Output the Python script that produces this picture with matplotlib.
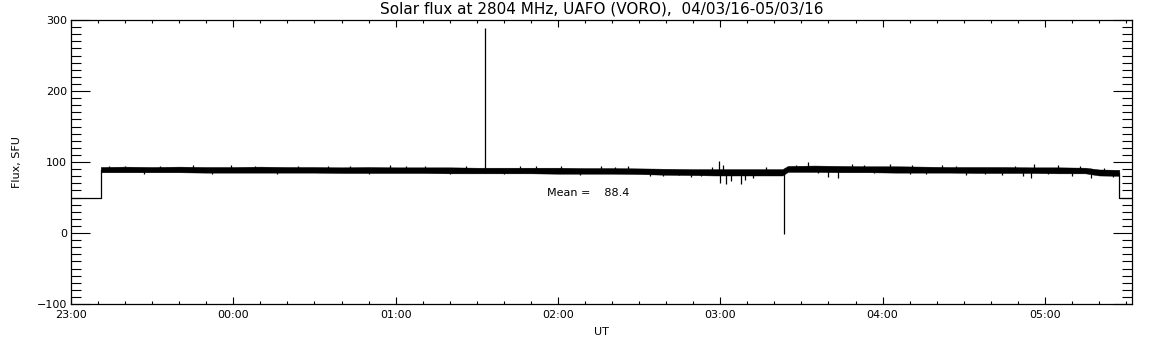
import matplotlib
matplotlib.use("Agg")
import matplotlib.pyplot as plt
from matplotlib.ticker import MultipleLocator

# time in minutes after 23:00 UT
x_end = 392.2

# step at start and end of the record (antenna off sun)
edge_t = [0, 11, 11]
edge_v = [50, 50, 89]
tail_t = [387.5, 387.5, x_end]
tail_v = [85, 50, 50]

# noisy band: time, upper and lower envelope
band_t = [11, 20, 30, 40, 50, 60, 70, 80, 90, 100, 110, 120, 130, 140, 150, 160,
          170, 180, 190, 200, 210, 220, 230, 238, 245, 255, 263, 265, 275, 285,
          295, 305, 315, 325, 335, 345, 355, 365, 375, 380, 387.5]
band_hi = [93, 93.5, 93, 93.5, 93, 93, 93.5, 93, 93, 92.5, 93, 92.5, 92.5, 92.5,
           92, 92, 92, 92, 91.5, 91.5, 91, 90.5, 90, 90, 90, 90, 90, 94.5, 95,
           94.5, 94, 94, 93.5, 93, 93, 93, 92.5, 92.5, 92, 89.5, 89]
band_lo = [85.5, 85.5, 85.5, 85.5, 85, 85, 85, 85, 85, 84.5, 84.5, 84.5, 84.5, 84,
           84, 84, 84, 83.5, 83.5, 83.5, 83, 82, 81.5, 81, 81, 81, 81, 86, 86,
           85.5, 85.5, 85, 85, 85, 84.5, 84.5, 84.5, 84, 84, 81, 80.5]

# single-sample excursions: time, base level, peak value
spike_t = [153, 263.7, 237, 239.5, 240, 241, 242.3, 244, 247.7, 249.2, 252,
           224.8, 272.5, 279.7, 283.4, 288.6, 302.8, 310, 311, 344, 352, 355,
           356, 377, 20, 45, 68, 95, 118, 131, 172, 196, 206, 214, 229, 322,
           331, 365, 370, 14, 27, 33, 52, 59, 76, 84, 103, 110, 124, 140, 146,
           160, 166, 181, 188, 201, 219, 233, 257, 268, 276, 293, 297, 316,
           327, 338, 349, 361, 373, 382, 385]
spike_base = [89, 86, 86, 86, 86, 86, 86, 86, 86, 86, 86,
              86, 90, 90, 90, 90, 90, 89, 89, 89, 88.5, 88.5,
              88.5, 88, 89.5, 89.5, 89.5, 89, 89, 89, 88.5, 88.5, 88, 87, 86, 89,
              89, 88, 88, 89.5, 89.5, 89.5, 89, 89, 89, 89, 89, 89, 88.5, 88.5,
              88.5, 88, 88, 88, 88, 87.5, 86.5, 86, 86, 90, 90, 90, 90, 89,
              89, 89, 88.5, 88, 88, 85, 85]
spike_v = [289, -2, 93, 101, 71, 96, 69, 73, 69, 75, 78,
           82, 100, 79, 78, 97, 97, 83, 96, 82, 80, 78,
           97, 77, 95, 95.5, 95, 95, 95.5, 95, 94.5, 94, 94, 80, 79, 96,
           81, 96, 80, 95, 83.5, 95, 83, 95.5, 83, 94.5, 95, 83, 94.5, 83,
           94, 82.5, 94, 94, 82, 93.5, 80.5, 80, 92.5, 96, 84, 96, 84, 83,
           95, 83, 95, 82.5, 94, 92, 79]

xticks = [0, 60, 120, 180, 240, 300, 360]
xlabels = ["23:00", "00:00", "01:00", "02:00", "03:00", "04:00", "05:00"]

fig = plt.figure(figsize=(11.52, 3.45), dpi=100)
ax = fig.add_axes([71 / 1152, 1 - 304 / 345, 1061 / 1152, 284 / 345])

ax.plot(edge_t, edge_v, color="black", lw=0.9)
ax.plot(tail_t, tail_v, color="black", lw=0.9)
ax.fill_between(band_t, band_lo, band_hi, color="black", lw=0.3)
ax.vlines(spike_t, spike_base, spike_v, color="black", lw=0.9)

ax.text(176, 56, "Mean =    88.4", fontsize=8, ha="left", va="center")

ax.set_xlim(0, x_end)
ax.set_ylim(-100, 300)
ax.set_xticks(xticks)
ax.set_xticklabels(xlabels)
ax.xaxis.set_minor_locator(MultipleLocator(10))
ax.yaxis.set_major_locator(MultipleLocator(100))
ax.yaxis.set_minor_locator(MultipleLocator(10))

ax.tick_params(axis="both", which="both", direction="in", top=True, right=True,
               width=0.8, labelsize=8, color="black")
ax.tick_params(axis="x", which="major", length=5, pad=4)
ax.tick_params(axis="x", which="minor", length=2.2)
ax.tick_params(axis="y", which="major", length=14, pad=3)
ax.tick_params(axis="y", which="minor", length=7)
for s in ax.spines.values():
    s.set_linewidth(0.9)

ax.set_xlabel("UT", fontsize=8)
ax.xaxis.set_label_coords(0.5, -0.08)
ax.set_ylabel("Flux, SFU", fontsize=8)
ax.yaxis.set_label_coords(-0.046, 0.5)

fig.text(601.5 / 1152, 1 - 9 / 345, "Solar flux at 2804 MHz, UAFO (VORO),  04/03/16-05/03/16",
         fontsize=11, ha="center", va="center")

fig.savefig("out.png", dpi=100)
